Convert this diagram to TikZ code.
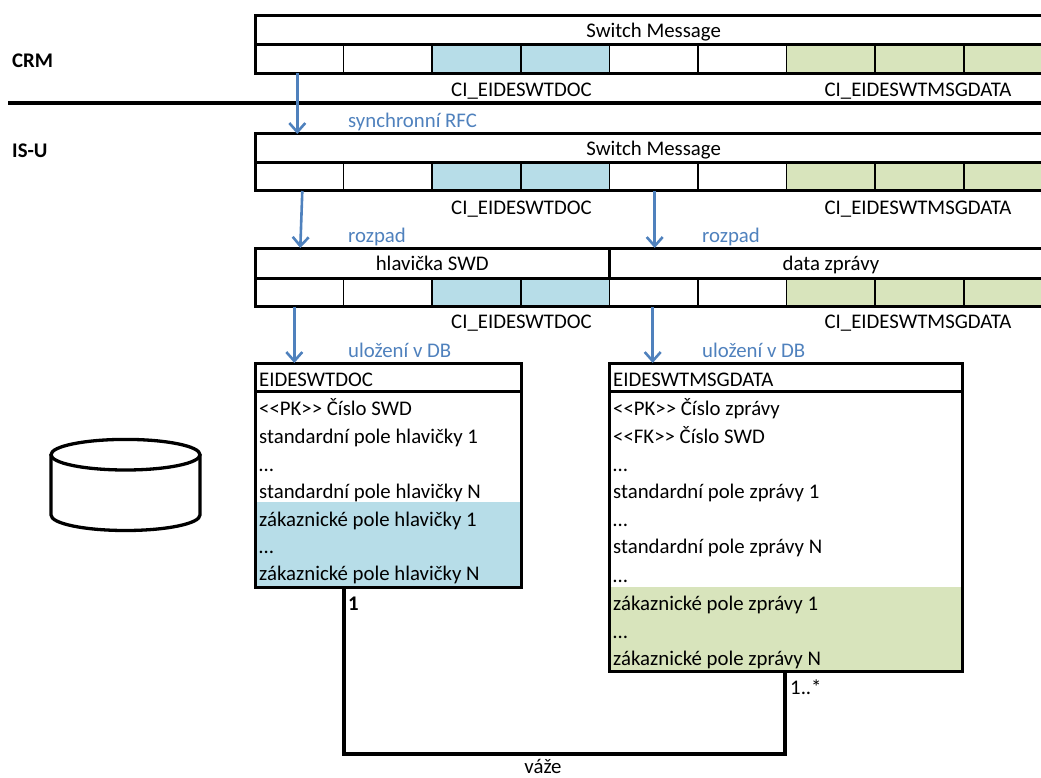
\documentclass[tikz,border=0pt]{standalone}
\usepackage{fontspec}
\usepackage{tikz}
\usetikzlibrary{arrows.meta}
\newfontfamily\calibri{Carlito}
\definecolor{mblue}{HTML}{B7DDE8}
\definecolor{mgreen}{HTML}{D8E4BC}
\definecolor{marrow}{HTML}{4F81BD}
\tikzset{
  cell/.style={draw=black, line width=1.5pt, minimum width=88.6pt, minimum height=28.5pt, inner sep=0pt, outer sep=0pt, anchor=north west},
  frame/.style={draw=black, line width=3pt, minimum height=28.5pt, inner sep=0pt, outer sep=0pt, anchor=north west, text height=15.5pt, text depth=0pt},
  rowtext/.style={anchor=base west, inner sep=0pt},
  caption/.style={anchor=base west, inner sep=0pt, text=marrow},
  segment/.style={anchor=base, inner sep=0pt},
  move/.style={draw=marrow, line width=2.6pt, -{Straight Barb[length=9pt, width=16pt]}},
  relation/.style={draw=black, line width=4.5pt}
}
\begin{document}
\begin{tikzpicture}[x=1pt, y=-1pt, every node/.style={font=\calibri\fontsize{20.8}{24}\selectfont}]
      \useasboundingbox (0, 0) rectangle (1041, 778);
      \clip (0, 0) rectangle (1041, 778);
      % message rows
      \foreach \row/\ytop in {crm/45, isu/162.5, roz/278} {
        \foreach \i/\col in {1/white, 2/white, 3/mblue, 4/mblue, 5/white, 6/white, 7/mgreen, 8/mgreen, 9/mgreen} {
          \node [cell, fill=\col] (\row\i) at ({255 + (\i - 1) * 88.6}, \ytop) {};
        }
        \node [frame, minimum width=797.4pt] (\row frame) at (255, \ytop) {};
      }
      \node [frame, minimum width=797.4pt] (crmhead) at (255, 16) {Switch Message};
      \node [frame, minimum width=797.4pt] (isuhead) at (255, 134) {Switch Message};
      \node [frame, minimum width=354.4pt, minimum height=30pt] (hlavicka) at (255, 248) {hlavička SWD};
      \node [frame, minimum width=443pt, minimum height=30pt] (zprava) at (609.4, 248) {data zprávy};
      % segment names
      \foreach \row/\y in {crm/97, isu/214.5, roz/328.5} {
        \node [segment] (\row doc) at (521.5, \y) {CI\_EIDESWTDOC};
        \node [segment] (\row data) at (918, \y) {CI\_EIDESWTMSGDATA};
      }
      \node [rowtext, font=\calibri\bfseries\fontsize{20.8}{24}\selectfont] (crm) at (12, 67.5) {CRM};
      \node [rowtext, font=\calibri\bfseries\fontsize{20.8}{24}\selectfont] (isu) at (12, 157.5) {IS-U};
      \coordinate (sepleft) at (8, 103);
      \coordinate (sepright) at (1041, 103);
      \draw [line width=4pt] (sepleft) -- (sepright);
      % tables
      \fill [mblue] (255, 502) rectangle (521, 587);
      \fill [mgreen] (609, 587) rectangle (962, 671);
      \node [frame, minimum width=266pt, minimum height=28pt] (dochead) at (255, 363) {};
      \node [frame, minimum width=266pt, minimum height=196pt] (docbody) at (255, 391) {};
      \node [frame, minimum width=353pt, minimum height=28pt] (datahead) at (609, 363) {};
      \node [frame, minimum width=353pt, minimum height=280pt] (databody) at (609, 391) {};
      \node [rowtext] (doctitle) at (259, 386.5) {EIDESWTDOC};
      \node [rowtext] (datatitle) at (613, 386.5) {EIDESWTMSGDATA};
      \foreach \y/\txt in {415.5/<<PK>> Číslo SWD, 443.5/standardní pole hlavičky 1, 471.5/…, 498.5/standardní pole hlavičky N,
          526.5/zákaznické pole hlavičky 1, 553.5/…, 580.5/zákaznické pole hlavičky N} {
        \node [rowtext] at (259, \y) {\txt};
      }
      \foreach \y/\txt in {415.5/<<PK>> Číslo zprávy, 443.5/<<FK>> Číslo SWD, 471.5/…, 498.5/standardní pole zprávy 1, 526.5/…,
          553.5/standardní pole zprávy N, 582.5/…, 610.5/zákaznické pole zprávy 1, 638.5/…, 665.5/zákaznické pole zprávy N} {
        \node [rowtext] at (613, \y) {\txt};
      }
      % arrows
      \draw [move] ([xshift=-2pt]crm1.south) -- ([xshift=-2pt]crm1.south |- isuhead.north);
      \draw [move] ([xshift=3pt]isu1.south) -- ([xshift=1pt]isu1.south |- hlavicka.north);
      \draw [move] ([xshift=1pt]isu5.south) -- ([xshift=1pt]isu5.south |- zprava.north);
      \draw [move] ([xshift=-5pt]roz1.south) -- ([xshift=-5pt]roz1.south |- dochead.north);
      \draw [move] ([xshift=-1pt]roz5.south) -- ([xshift=-1pt]roz5.south |- datahead.north);
      \node [caption] (rfc) at (348, 127.5) {synchronní RFC};
      \node [caption] (rozdoc) at (348, 242) {rozpad};
      \node [caption] (rozdata) at (702, 242) {rozpad};
      \node [caption] (dbdoc) at (348, 357) {uložení v DB};
      \node [caption] (dbdata) at (702, 357) {uložení v DB};
      % relation
      \coordinate (relleft) at (344, 754);
      \coordinate (relright) at (785, 754);
      \draw [relation, line join=miter] (docbody.south -| relleft) -- (relleft) -- (relright) -- (databody.south -| relright);
      \node [rowtext, font=\calibri\bfseries\fontsize{20.8}{24}\selectfont] (one) at (348, 610) {1};
      \node [rowtext] (many) at (790, 694) {1..*};
      \node [segment] (vaze) at (543, 773) {váže};
      % database
      \draw [line width=3.3pt, fill=white] (51, 454.7) -- (51, 515) arc [start angle=180, end angle=360, x radius=74.5, y radius=-15.5] -- (200, 454.7);
      \draw [line width=3.3pt, fill=white] (125.5, 454.7) ellipse [x radius=74.5, y radius=15.3];
    \end{tikzpicture}
\end{document}
